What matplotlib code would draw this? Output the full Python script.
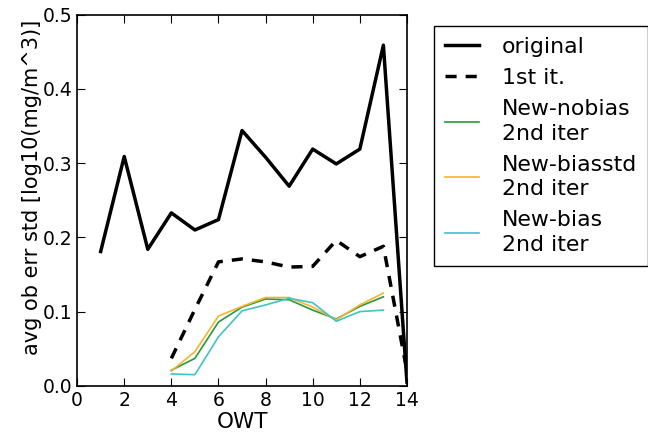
import numpy as np
import matplotlib
matplotlib.use("Agg")
import matplotlib.pyplot as plt

# OWT classes
owt_orig = [1, 2, 3, 4, 5, 6, 7, 8, 9, 10, 11, 12, 13, 14]
owt_iter = [4, 5, 6, 7, 8, 9, 10, 11, 12, 13, 14]
owt_new = [4, 5, 6, 7, 8, 9, 10, 11, 12, 13]

# avg ob err std values
original = [0.181, 0.309, 0.184, 0.233, 0.210, 0.224, 0.344, 0.308, 0.269,
            0.319, 0.299, 0.319, 0.459, 0.005]
first_it = [0.037, 0.103, 0.167, 0.171, 0.167, 0.160, 0.161, 0.196, 0.174,
            0.188, 0.020]
new_nobias = [0.021, 0.037, 0.086, 0.106, 0.117, 0.116, 0.102, 0.090, 0.107, 0.120]
new_biasstd = [0.020, 0.046, 0.094, 0.107, 0.119, 0.119, 0.106, 0.089, 0.109, 0.125]
new_bias = [0.016, 0.015, 0.066, 0.101, 0.109, 0.118, 0.112, 0.087, 0.100, 0.102]

plt.rcParams['font.family'] = ['DejaVu Sans']
plt.rcParams['xtick.direction'] = 'in'
plt.rcParams['ytick.direction'] = 'in'

fig = plt.figure(figsize=(6.48, 4.34), dpi=100)
ax = fig.add_axes([0.119, 0.111, 0.509, 0.855])

ax.plot(owt_orig, original, color='black', linewidth=2.5, label='original')
ax.plot(owt_iter, first_it, color='black', linewidth=2.5, linestyle='--',
        dashes=(3.2, 2.6), label='1st it.')
ax.plot(owt_new, new_nobias, color='#239b3c', linewidth=1.2, label='New-nobias\n2nd iter')
ax.plot(owt_new, new_biasstd, color='#ffb129', linewidth=1.2, label='New-biasstd\n2nd iter')
ax.plot(owt_new, new_bias, color='#3cc4c8', linewidth=1.2, label='New-bias\n2nd iter')

ax.set_xlim(0, 14)
ax.set_ylim(0, 0.5)
ax.set_xticks(np.arange(0, 15, 2))
ax.set_yticks(np.arange(0, 0.51, 0.1))
ax.tick_params(labelsize=13.5, top=True, right=True, length=6)
ax.set_xlabel('OWT', fontsize=15.5, labelpad=2)
ax.set_ylabel('avg ob err std [log10(mg/m^3)]', fontsize=15)
ax.yaxis.set_label_coords(-0.105, 0.534)
for s in ax.spines.values():
    s.set_linewidth(1.2)

leg = ax.legend(loc='upper left', bbox_to_anchor=(1.082, 0.97), borderaxespad=0,
                fontsize=15.8, fancybox=False, framealpha=1, edgecolor='black',
                handlelength=1.55, handletextpad=1.05, borderpad=0.5,
                labelspacing=0.5)
leg.get_frame().set_linewidth(1.0)
for t in leg.get_texts():
    t.set_linespacing(1.3)

fig.savefig('out.png', dpi=100)
